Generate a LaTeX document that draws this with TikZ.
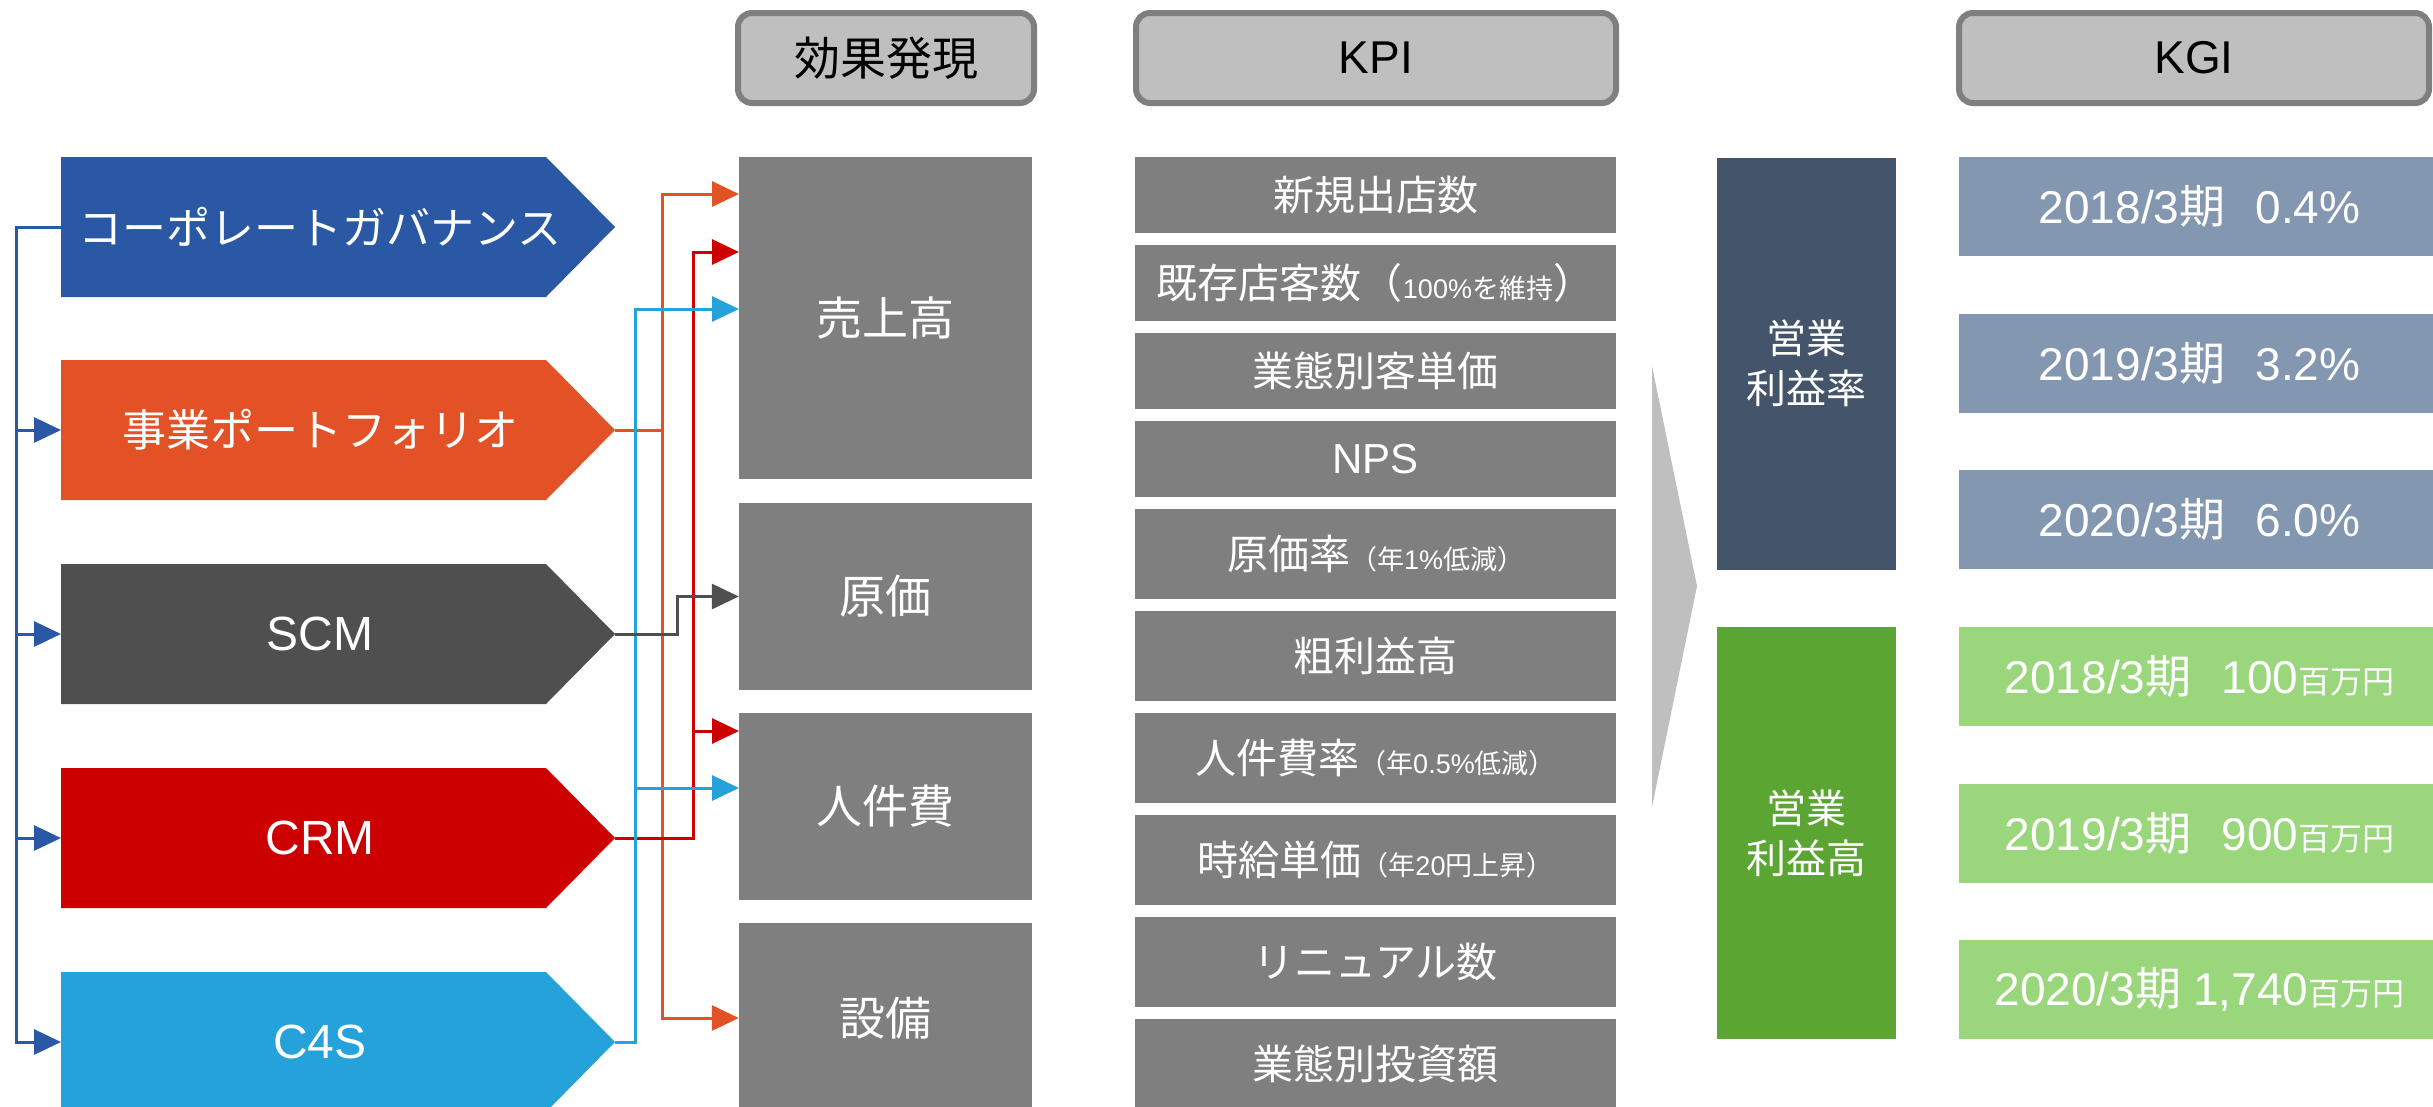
\documentclass[tikz,border=0pt]{standalone}
\usepackage{fontspec}
\setmainfont{Liberation Sans}
\newfontfamily\jp{Noto Sans CJK JP}
\usetikzlibrary{arrows.meta}
\definecolor{cgblue}{HTML}{2A58A5}
\definecolor{pforange}{HTML}{E35227}
\definecolor{scmgray}{HTML}{4F4F4F}
\definecolor{crmred}{HTML}{CC0000}
\definecolor{csblue}{HTML}{26A2DA}
\definecolor{boxgray}{HTML}{7F7F7F}
\definecolor{hdrfill}{HTML}{BFBFBF}
\definecolor{slate}{HTML}{44546A}
\definecolor{kgiblue}{HTML}{8497B0}
\definecolor{opgreen}{HTML}{5BA533}
\definecolor{kgigreen}{HTML}{9AD67C}
\newcommand\kpism{\fontsize{27}{30}\selectfont}
\newcommand\unitsm{\jp\fontsize{32}{36}\selectfont}
\newcommand\latinbig{\rmfamily\fontsize{48}{52}\selectfont}
\newcommand\mypent[4]{%
  \fill[#2] (61,{#3-70}) -- (546,{#3-70}) -- (615,#3) -- (546,{#3+70}) -- (61,{#3+70}) -- cycle;
  \node[penttext] (#1) at (320,#3) {#4};
  \coordinate (#1L) at (61,#3);
  \coordinate (#1T) at (615,#3);}
\tikzset{
  hdr/.style={draw=boxgray, line width=6pt, fill=hdrfill, rounded corners=14pt,
    minimum height=90pt, inner sep=0pt, text=black, font=\fontsize{46}{50}\selectfont},
  penttext/.style={text=white, inner sep=0pt, font=\jp\fontsize{44}{48}\selectfont},
  fx/.style={fill=boxgray, text=white, minimum width=293pt, inner sep=0pt,
    font=\jp\fontsize{46}{50}\selectfont},
  kpi/.style={fill=boxgray, text=white, minimum width=481pt, inner sep=0pt,
    font=\fontsize{41}{46}\selectfont},
  op/.style={text=white, minimum width=179pt, minimum height=412pt, inner sep=0pt,
    align=center, font=\jp\fontsize{40}{50}\selectfont},
  kgi/.style={text=white, minimum width=481pt, minimum height=99pt, inner sep=0pt,
    font=\fontsize{46}{50}\selectfont},
  conn/.style={line width=3pt, line join=miter},
  tipped/.style={-{Triangle[length=27pt,width=25pt]}}
}
\begin{document}
\begin{tikzpicture}[x=1pt,y=-1pt]
\useasboundingbox (0,0) rectangle (2433,1106);
\clip (0,0) rectangle (2433,1106);
% headers
\node[hdr, minimum width=296pt] (hfx) at (886,58) {\jp 効果発現};
\node[hdr, minimum width=480pt] (hkpi) at (1376,58) {KPI};
\node[hdr, minimum width=470pt] (hkgi) at (2194,58) {KGI};
% left pentagons
\mypent{cg}{cgblue}{227}{コーポレートガバナンス}
\mypent{pf}{pforange}{430}{事業ポートフォリオ}
\mypent{scm}{scmgray}{634}{\latinbig SCM}
\mypent{crm}{crmred}{838}{\latinbig CRM}
\mypent{cs}{csblue}{1042}{\latinbig C4S}
% effect boxes
\node[fx, minimum height=322pt] (uri) at (885.5,318) {売上高};
\node[fx, minimum height=187pt] (genka) at (885.5,596.5) {原価};
\node[fx, minimum height=187pt] (jinken) at (885.5,806.5) {人件費};
\node[fx, minimum height=190pt] (setsubi) at (885.5,1018) {設備};
\coordinate (u1) at (739,194);
\coordinate (u2) at (739,252);
\coordinate (u3) at (739,309);
\coordinate (j1) at (739,731);
\coordinate (j2) at (739,788);
% KPI boxes
\node[kpi, minimum height=76pt] (k1) at (1375.5,195) {\jp 新規出店数};
\node[kpi, minimum height=76pt] (k2) at (1375.5,283) {{\jp 既存店客数（}{\kpism 100\%{\jp を維持}}{\jp ）}};
\node[kpi, minimum height=76pt] (k3) at (1375.5,371) {\jp 業態別客単価};
\node[kpi, minimum height=76pt] (k4) at (1375.5,459) {\fontsize{42}{46}\selectfont NPS};
\node[kpi, minimum height=90pt] (k5) at (1375.5,554) {{\jp 原価率}{\kpism{\jp （年}1\%{\jp 低減）}}};
\node[kpi, minimum height=90pt] (k6) at (1375.5,656) {\jp 粗利益高};
\node[kpi, minimum height=90pt] (k7) at (1375.5,758) {{\jp 人件費率}{\kpism{\jp （年}0.5\%{\jp 低減）}}};
\node[kpi, minimum height=90pt] (k8) at (1375.5,860) {{\jp 時給単価}{\kpism{\jp （年}20{\jp 円上昇）}}};
\node[kpi, minimum height=90pt] (k9) at (1375.5,962) {\jp リニュアル数};
\node[kpi, minimum height=90pt] (k10) at (1375.5,1064) {\jp 業態別投資額};
% chevron
\fill[hdrfill] (1652,366) -- (1697,586) -- (1652,807) -- cycle;
% operating boxes
\node[op, fill=slate] (opr) at (1806.5,363.5) {営業\\利益率};
\node[op, fill=opgreen] (opp) at (1806.5,833) {営業\\利益高};
% KGI boxes
\node[kgi, fill=kgiblue] (g1) at (2199.5,206.5) {2018/3{\jp 期}\hspace{30pt}0.4\%};
\node[kgi, fill=kgiblue] (g2) at (2199.5,363.5) {2019/3{\jp 期}\hspace{30pt}3.2\%};
\node[kgi, fill=kgiblue] (g3) at (2199.5,519.5) {2020/3{\jp 期}\hspace{30pt}6.0\%};
\node[kgi, fill=kgigreen] (g4) at (2199.5,676.5) {2018/3{\jp 期}\hspace{30pt}100{\unitsm 百万円}};
\node[kgi, fill=kgigreen] (g5) at (2199.5,833.5) {2019/3{\jp 期}\hspace{30pt}900{\unitsm 百万円}};
\node[kgi, fill=kgigreen] (g6) at (2199.5,989.5) {2020/3{\jp 期}\hspace{12pt}1,740{\unitsm 百万円}};
% blue connector on the left
\coordinate (bj) at (16,227);
\draw[conn, cgblue, tipped] (cgL) -- (bj) |- (csL);
\draw[conn, cgblue, tipped] (bj |- pfL) -- (pfL);
\draw[conn, cgblue, tipped] (bj |- scmL) -- (scmL);
\draw[conn, cgblue, tipped] (bj |- crmL) -- (crmL);
% orange
\coordinate (oj) at (662,430);
\draw[conn, pforange, tipped] (pfT) -- (oj) |- (u1);
\draw[conn, pforange, tipped] (oj) |- (setsubi.west);
% red
\coordinate (rj) at (693,838);
\draw[conn, crmred, tipped] (crmT) -- (rj) |- (u2);
\draw[conn, crmred, tipped] (rj) |- (j1);
% light blue
\coordinate (cj) at (635,1042);
\draw[conn, csblue, tipped] (csT) -- (cj) |- (u3);
\draw[conn, csblue, tipped] (cj) |- (j2);
% gray
\coordinate (gj) at (677,634);
\draw[conn, scmgray, tipped] (scmT) -- (gj) |- (genka.west);
\end{tikzpicture}
\end{document}
